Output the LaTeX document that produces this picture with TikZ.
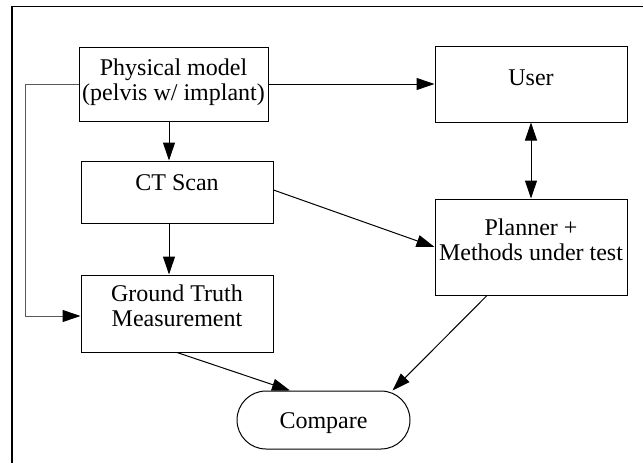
\documentclass[tikz,border=0pt]{standalone}
\usepackage{fontspec}
\setmainfont{Liberation Serif}
\usetikzlibrary{arrows.meta}
\newcommand{\boxtext}[2]{\raisebox{#1}[0pt][0pt]{\begin{tabular}[b]{@{}c@{}}#2\end{tabular}}}
\begin{document}
\begin{tikzpicture}[x=1pt,y=-1pt,
  font=\fontsize{24}{25}\selectfont,
  box/.style={draw,line width=1pt,rectangle,inner sep=0pt},
  term/.style={draw,line width=1pt,rectangle,rounded corners=29pt,inner sep=0pt},
  arr/.style={line width=1pt,-{Triangle[length=18pt,width=12pt]}},
  garr/.style={line width=1pt,black!65,-{Triangle[length=18pt,width=12pt,color=black]}},
  darr/.style={line width=1pt,{Triangle[length=18pt,width=12pt]}-{Triangle[length=18pt,width=12pt]}},
  frame/.style={line width=1.3pt}]
\useasboundingbox (0,0) rectangle (643,463);
\draw[frame] (643,6.5) -- (12,6.5) -- (12,463);

\node[box,minimum width=189pt,minimum height=74pt] (phys) at (173.5,84)
  {\boxtext{-16pt}{Physical model\\(pelvis w/ implant)}};
\node[box,minimum width=192pt,minimum height=62pt] (ct) at (177,192)
  {\boxtext{1.3pt}{CT Scan}};
\node[box,minimum width=192pt,minimum height=77pt] (gt) at (177,313.5)
  {\boxtext{-12.5pt}{Ground Truth\\Measurement}};
\node[box,minimum width=192pt,minimum height=76pt] (user) at (531,84)
  {\boxtext{-1pt}{User}};
\node[box,minimum width=192pt,minimum height=96pt] (planner) at (531,247)
  {\boxtext{-13pt}{Planner +\\Methods under test}};
\node[term,minimum width=173pt,minimum height=58pt] (cmp) at (323.5,420)
  {\boxtext{-8.3pt}{Compare}};

\coordinate (lc) at (25,316);
\draw[arr] (phys.east) -- (user.west);
\draw[arr] ([xshift=-4.5pt]phys.south) -- ([xshift=-8pt]ct.north);
\draw[arr] ([xshift=-8pt]ct.south) -- ([xshift=-8pt]gt.north);
\draw[garr] (phys.west) -| (lc) -- (gt.west |- lc);
\draw[arr] ([yshift=2pt]ct.east) -- (planner.west);
\draw[darr] (user.south) -- (planner.north);
\draw[arr] (gt.south) -- ([xshift=-33.5pt]cmp.north);
\draw[arr] ([xshift=-44pt]planner.south) -- ([xshift=-18pt]cmp.north east);
\end{tikzpicture}
\end{document}
